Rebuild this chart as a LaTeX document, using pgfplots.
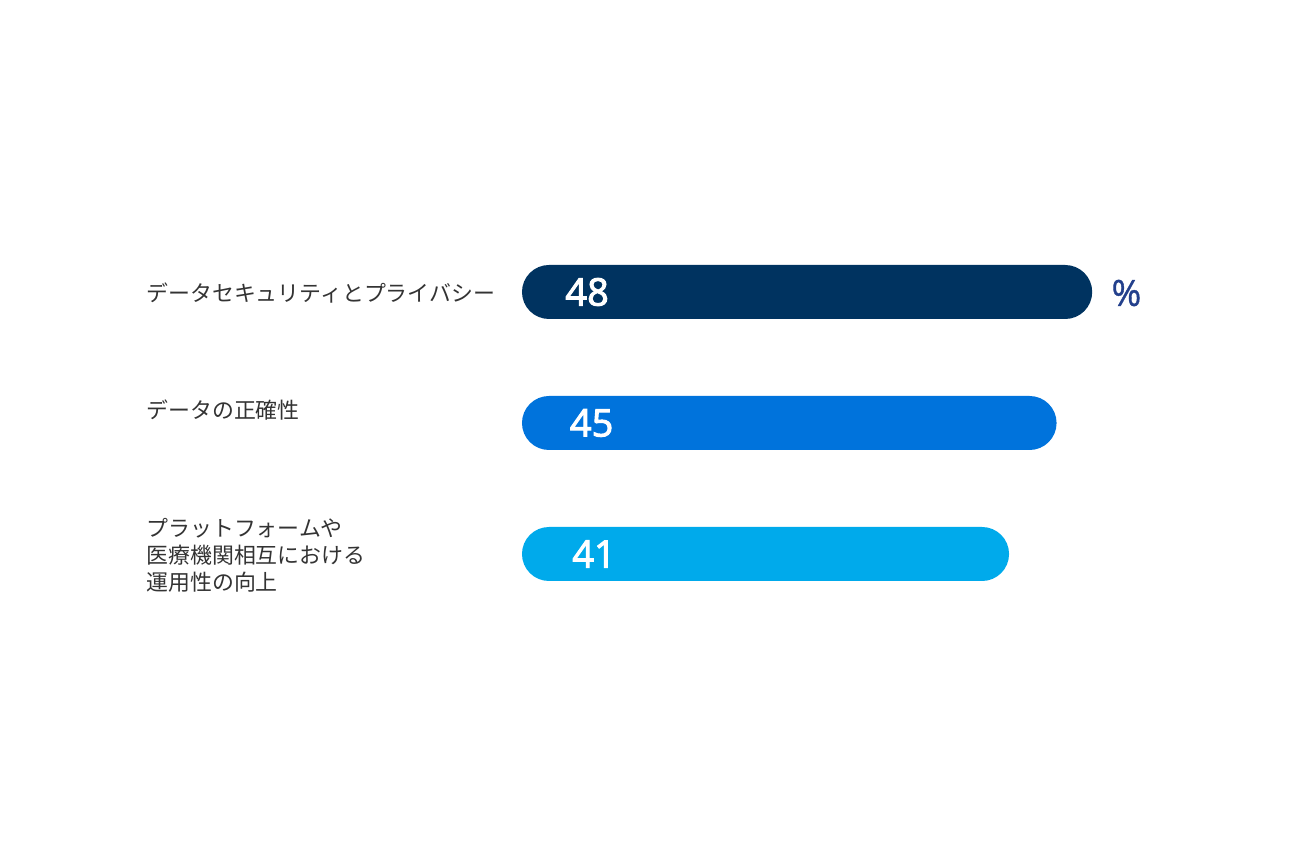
\documentclass[border=0pt]{standalone}
\usepackage{pgfplots}
\pgfplotsset{compat=1.18}
\usepackage{fontspec}
\setmainfont{Open Sans}
\newfontfamily\numfont{Open Sans}[FakeBold=2.6]
\newfontfamily\pctfont{Open Sans}[FakeBold=1]
\newfontfamily\jp{Noto Sans CJK JP}
\definecolor{navy}{RGB}{0,51,96}
\definecolor{midblue}{RGB}{0,115,220}
\definecolor{lightblue}{RGB}{0,170,235}
\definecolor{pct}{RGB}{35,64,140}
\begin{document}
\begin{tikzpicture}
\begin{axis}[
  scale only axis, width=645pt, height=430pt,
  xmin=-43.94, xmax=64.65, ymin=0, ymax=860, y dir=reverse,
  axis lines=none, clip=false,
  xbar, bar width=27pt, bar shift=0pt,
  every axis plot/.append style={draw=none, rounded corners=13.5pt},
]
\path (rel axis cs:0,0) rectangle (rel axis cs:1,1);
% values in percent, y = row position
\addplot[fill=navy] coordinates {(48,292)};
\addplot[fill=midblue] coordinates {(45,423)};
\addplot[fill=lightblue] coordinates {(41,554)};

\node[anchor=west, inner sep=0, text=white, font=\numfont\fontsize{19}{19}\selectfont] at (axis cs:3.62,292) {48};
\node[anchor=west, inner sep=0, text=white, font=\numfont\fontsize{19}{19}\selectfont] at (axis cs:4.0,423) {45};
\node[anchor=west, inner sep=0, text=white, font=\numfont\fontsize{19}{19}\selectfont] at (axis cs:4.2,554) {41};
\node[anchor=west, inner sep=0, text=pct, font=\pctfont\fontsize{18}{18}\selectfont] at (axis cs:49.6,293) {\%};

\node[anchor=west, inner sep=0, text=black!80, font=\jp\fontsize{10.95}{13.5}\selectfont] at (axis cs:-31.65,293) {データセキュリティとプライバシー};
\node[anchor=west, inner sep=0, text=black!80, font=\jp\fontsize{10.95}{13.5}\selectfont] at (axis cs:-31.65,410) {データの正確性};
\node[anchor=west, inner sep=0, text=black!80, align=left, font=\jp\fontsize{10.95}{13.5}\selectfont] at (axis cs:-31.65,555) {プラットフォームや\\医療機関相互における\\運用性の向上};
\end{axis}
\end{tikzpicture}
\end{document}
